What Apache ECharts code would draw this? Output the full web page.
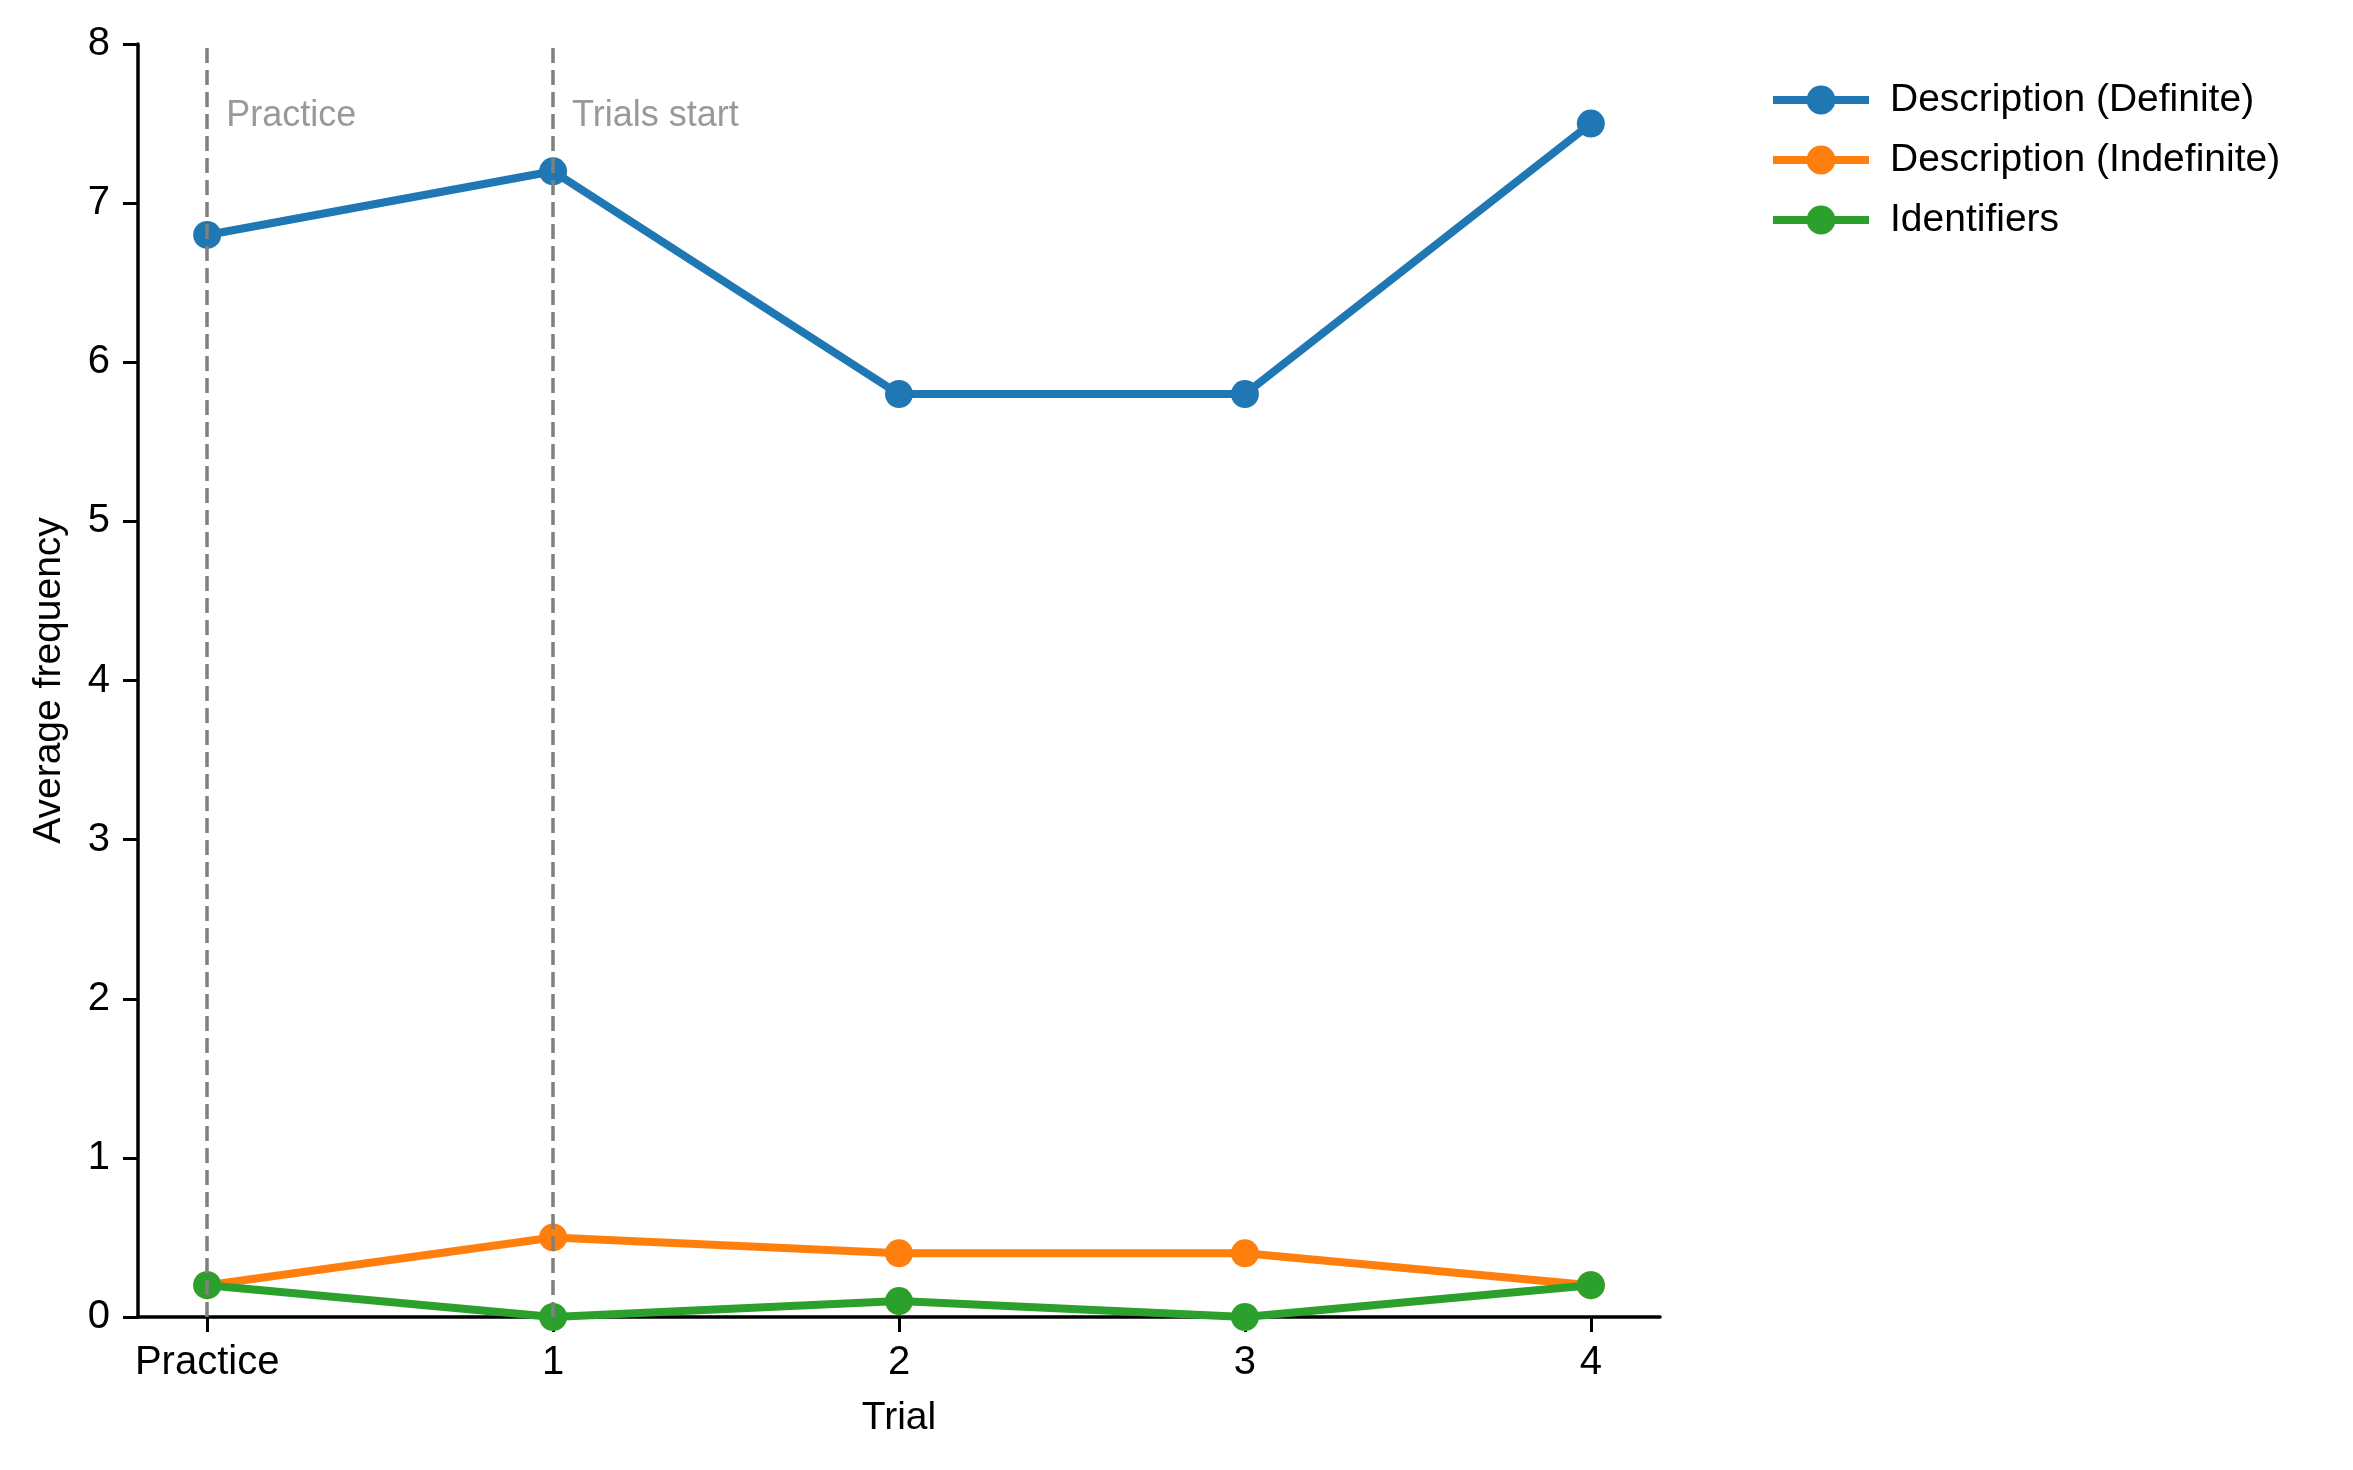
<!DOCTYPE html>
<html>
<head>
<meta charset="utf-8">
<script src="https://cdn.jsdelivr.net/npm/echarts@6/dist/echarts.min.js"></script>
<style>
html,body{margin:0;padding:0;background:#fff;}
#chart{width:2353px;height:1470px;}
</style>
</head>
<body>
<div id="chart"></div>
<script>
const trialLabels = ['Practice', '1', '2', '3', '4'];
const trialPositions = [0, 1, 2, 3, 4];
const seriesNames = ['Description (Definite)', 'Description (Indefinite)', 'Identifiers'];
const definiteValues = [6.8, 7.2, 5.8, 5.8, 7.5];
const indefiniteValues = [0.2, 0.5, 0.4, 0.4, 0.2];
const identifierValues = [0.2, 0.0, 0.1, 0.0, 0.2];
const markerLines = [0, 1];
const markerTexts = ['Practice', 'Trials start'];
const yTicks = [0, 1, 2, 3, 4, 5, 6, 7, 8];

const colors = ['#1f77b4', '#ff7f0e', '#2ca02c'];
const FONT = '"Liberation Sans", Arial, Helvetica, sans-serif';

function pairs(vals) { return trialPositions.map((x, i) => [x, vals[i]]); }

const allValues = [definiteValues, indefiniteValues, identifierValues];
const lineSeries = seriesNames.map((name, i) => ({
  name: name,
  type: 'line',
  data: pairs(allValues[i]),
  symbol: 'circle',
  symbolSize: 28,
  color: colors[i],
  lineStyle: { width: 8, color: colors[i] },
  itemStyle: { color: colors[i] },
  z: 2 + i
}));

const annotationSeries = {
  name: 'annotations',
  type: 'scatter',
  data: markerLines.map((x, i) => ({ value: [x, 7.55], label: { formatter: markerTexts[i] } })),
  symbolSize: 0,
  z: 10,
  label: {
    show: true,
    position: 'right',
    distance: 19,
    color: '#808080',
    fontSize: 36,
    fontFamily: FONT
  },
  markLine: {
    silent: true,
    symbol: ['none', 'none'],
    z: 10,
    label: { show: false },
    lineStyle: { color: '#808080', type: [15, 7], width: 3.5 },
    data: markerLines.map(x => ({ xAxis: x }))
  }
};

const chart = echarts.init(document.getElementById('chart'), null, { renderer: 'canvas' });
chart.setOption({
  animation: false,
  backgroundColor: '#ffffff',
  grid: { left: 138, right: 693, top: 44, bottom: 153, containLabel: false },
  legend: {
    data: seriesNames,
    orient: 'vertical',
    left: 1764,
    top: 73,
    itemWidth: 96,
    itemHeight: 36,
    itemGap: 16,
    lineStyle: { width: 8 },
    itemStyle: { borderWidth: 0 },
    textStyle: { fontSize: 39, fontFamily: FONT, color: '#000', padding: [0, 0, 0, 16], lineHeight: 44 }
  },
  xAxis: {
    type: 'value',
    min: -0.2,
    max: 4.2,
    name: 'Trial',
    nameLocation: 'middle',
    nameGap: 82,
    nameTextStyle: { fontSize: 39, fontFamily: FONT, color: '#000' },
    splitLine: { show: false },
    axisLine: { onZero: false, lineStyle: { color: '#000', width: 3.5 } },
    axisTick: { show: true, length: 15, lineStyle: { color: '#000', width: 3 }, customValues: trialPositions },
    axisLabel: {
      customValues: trialPositions,
      formatter: v => trialLabels[trialPositions.indexOf(Math.round(v))],
      fontSize: 40, fontFamily: FONT, color: '#000', margin: 26
    }
  },
  yAxis: {
    type: 'value',
    min: 0,
    max: 8,
    interval: 1,
    name: 'Average frequency',
    nameLocation: 'middle',
    nameGap: 69,
    nameTextStyle: { fontSize: 39, fontFamily: FONT, color: '#000' },
    splitLine: { show: false },
    axisLine: { show: true, onZero: false, lineStyle: { color: '#000', width: 3.5 } },
    axisTick: { show: true, length: 15, lineStyle: { color: '#000', width: 3 } },
    axisLabel: { fontSize: 40, fontFamily: FONT, color: '#000', margin: 28, formatter: v => String(yTicks[yTicks.indexOf(v)]) }
  },
  series: lineSeries.concat([annotationSeries])
});
</script>
</body>
</html>
